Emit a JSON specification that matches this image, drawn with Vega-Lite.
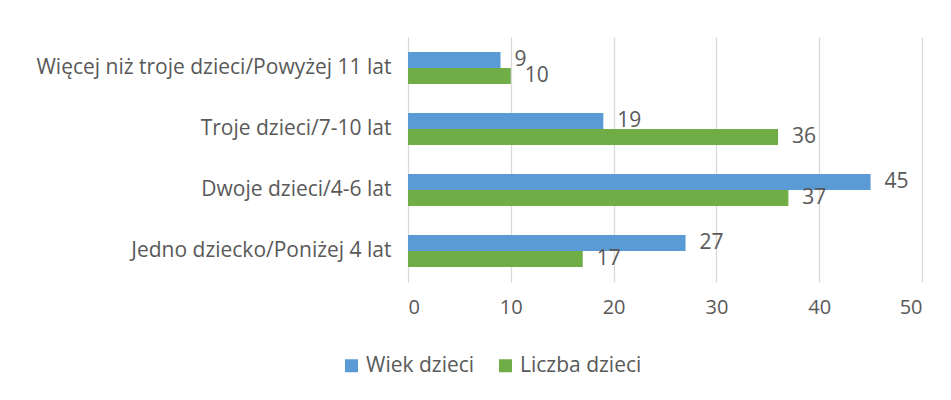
{
  "$schema": "https://vega.github.io/schema/vega-lite/v6.json",
  "width": 514,
  "height": 245,
  "autosize": {"type": "none"},
  "padding": {"left": 408, "top": 37, "right": 29, "bottom": 118},
  "background": "white",
  "data": {
    "values": [
      {"kategoria": "Więcej niż troje dzieci/Powyżej 11 lat", "seria": "Wiek dzieci", "wartosc": 9},
      {"kategoria": "Więcej niż troje dzieci/Powyżej 11 lat", "seria": "Liczba dzieci", "wartosc": 10},
      {"kategoria": "Troje dzieci/7-10 lat", "seria": "Wiek dzieci", "wartosc": 19},
      {"kategoria": "Troje dzieci/7-10 lat", "seria": "Liczba dzieci", "wartosc": 36},
      {"kategoria": "Dwoje dzieci/4-6 lat", "seria": "Wiek dzieci", "wartosc": 45},
      {"kategoria": "Dwoje dzieci/4-6 lat", "seria": "Liczba dzieci", "wartosc": 37},
      {"kategoria": "Jedno dziecko/Poniżej 4 lat", "seria": "Wiek dzieci", "wartosc": 27},
      {"kategoria": "Jedno dziecko/Poniżej 4 lat", "seria": "Liczba dzieci", "wartosc": 17}
    ]
  },
  "encoding": {
    "y": {
      "field": "kategoria",
      "type": "nominal",
      "sort": null,
      "title": null,
      "scale": {"paddingInner": 0.475, "paddingOuter": 0.246},
      "axis": {
        "labelFontSize": 21,
        "labelColor": "#595959",
        "labelPadding": 17,
        "ticks": false,
        "domain": true,
        "domainColor": "#D9D9D9",
        "grid": false,
        "labelLimit": 500
      }
    },
    "yOffset": {
      "field": "seria",
      "type": "nominal",
      "sort": ["Wiek dzieci", "Liczba dzieci"],
      "scale": {"paddingInner": 0, "paddingOuter": 0}
    },
    "x": {
      "field": "wartosc",
      "type": "quantitative",
      "title": null,
      "scale": {"domain": [0, 50], "nice": false},
      "axis": {
        "values": [0, 10, 20, 30, 40, 50],
        "labelFontSize": 20,
        "labelColor": "#595959",
        "labelPadding": 15,
        "ticks": false,
        "domain": false,
        "grid": true,
        "gridColor": "#D9D9D9",
        "gridWidth": 1.3
      }
    }
  },
  "layer": [
    {
      "mark": {"type": "bar"},
      "encoding": {
        "color": {
          "field": "seria",
          "type": "nominal",
          "sort": ["Wiek dzieci", "Liczba dzieci"],
          "scale": {"domain": ["Wiek dzieci", "Liczba dzieci"], "range": ["#5B9BD5", "#70AD47"]},
          "legend": {
            "title": null,
            "orient": "none",
            "direction": "horizontal",
            "legendX": -67,
            "legendY": 318,
            "symbolType": "square",
            "symbolSize": 169,
            "symbolStrokeWidth": 0,
            "labelFontSize": 21,
            "labelColor": "#595959",
            "columnPadding": 20,
            "labelOffset": 4
          }
        }
      }
    },
    {
      "mark": {"type": "text", "align": "left", "baseline": "middle", "dx": 14, "fontSize": 21, "color": "#595959"},
      "encoding": {
        "text": {"field": "wartosc", "type": "quantitative"}
      }
    }
  ],
  "config": {
    "font": "Open Sans",
    "view": {"stroke": null}
  }
}
